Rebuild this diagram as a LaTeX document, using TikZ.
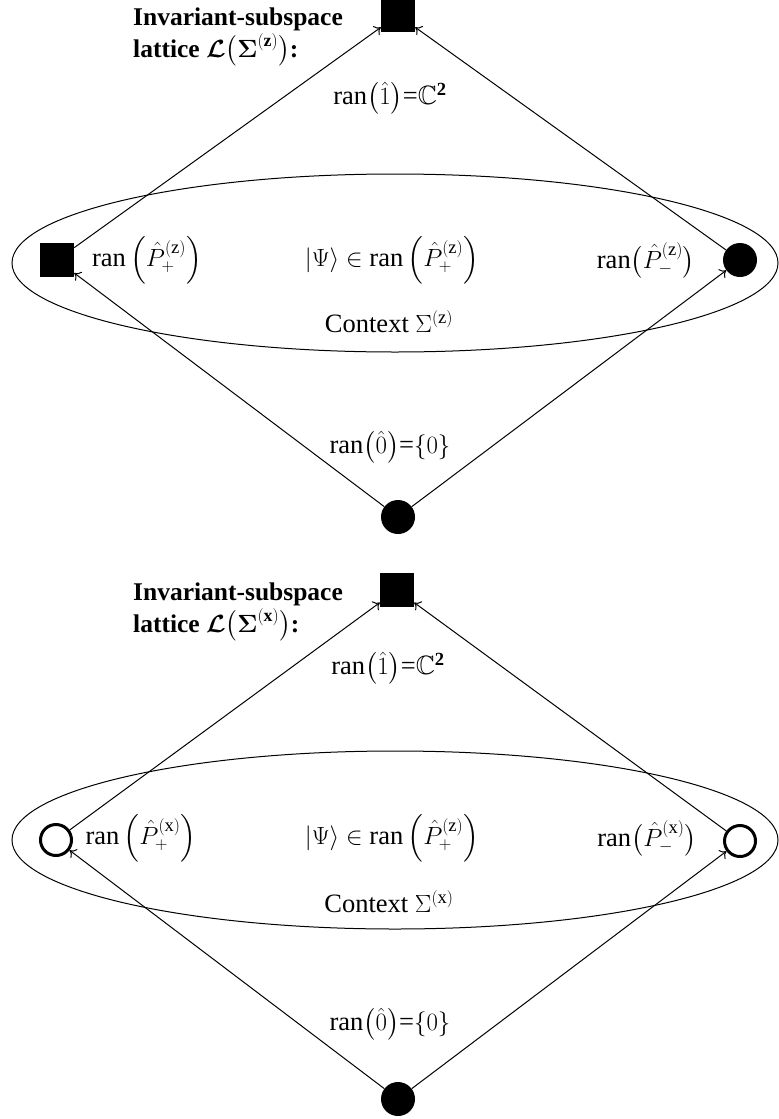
\documentclass[tikz,border=0pt]{standalone}
\usepackage{amsmath,amssymb,bm}
\usepackage{fontspec}
\setmainfont{Liberation Serif}
\usetikzlibrary{arrows.meta,shapes.geometric}
\tikzset{
  sqnode/.style={rectangle, fill=black, minimum size=34pt, inner sep=0pt},
  dotnode/.style={circle, fill=black, minimum size=34pt, inner sep=0pt},
  ringnode/.style={circle, draw=black, line width=3pt, minimum size=31pt, inner sep=0pt},
  ctxnode/.style={ellipse, draw=black, line width=1pt, minimum width=766pt, minimum height=178pt, inner sep=0pt},
  edge/.style={-{To[length=6pt,width=11pt]}, line width=1pt},
  lbl/.style={inner sep=0pt, font=\fontsize{26.5}{30}\selectfont},
  ttl/.style={inner sep=0pt, anchor=base west, font=\fontsize{25.5}{30}\selectfont\bfseries}
}
\begin{document}
\begin{tikzpicture}[x=1pt,y=-1pt]
\useasboundingbox (0,0) rectangle (779,1119);
% ---------- upper lattice ----------
\node[ctxnode] (E1) at (395,263) {};
\node[ttl] (t1a) at (133,25) {Invariant-subspace};
\node[ttl] (t1b) at (133,57) {lattice $\bm{\mathcal{L}}\bigl(\bm{\Sigma}^{(\mathbf{z})}\bigr)$:};
\node[sqnode] (T1) at (398,15) {};
\node[sqnode] (L1) at (57,260) {};
\node[dotnode] (R1) at (740,260) {};
\node[dotnode] (B1) at (398,517) {};
\node[lbl] (one1) at (390,98) {ran$\bigl(\hat{1}\bigr)$=$\mathbb{C}^{\mathbf{2}}$};
\node[lbl] (pl1) at (147,260) {ran$\,\left(\hat{P}_+^{(\mathrm{z})}\right)$};
\node[lbl] (psi1) at (392,260) {$|\Psi\rangle\in$ ran$\,\left(\hat{P}_+^{(\mathrm{z})}\right)$};
\node[lbl] (pm1) at (646,260) {ran$\bigl(\hat{P}_-^{(\mathrm{z})}\bigr)$};
\node[lbl] (c1) at (389,322) {Context $\Sigma^{(\mathrm{z})}$};
\node[lbl] (zero1) at (390,447) {ran$\bigl(\hat{0}\bigr)$=$\{0\}$};
\draw[edge] (L1) -- (T1);
\draw[edge] (R1) -- (T1);
\draw[edge] (B1) -- (L1);
\draw[edge] (B1) -- (R1);
% ---------- lower lattice ----------
\node[ctxnode] (E2) at (395,840) {};
\node[ttl] (t2a) at (133,600) {Invariant-subspace};
\node[ttl] (t2b) at (133,632) {lattice $\bm{\mathcal{L}}\bigl(\bm{\Sigma}^{(\mathbf{x})}\bigr)$:};
\node[sqnode] (T2) at (397,590) {};
\node[ringnode] (L2) at (56,840) {};
\node[ringnode] (R2) at (740,841) {};
\node[dotnode] (B2) at (398,1099) {};
\node[lbl] (one2) at (388,668) {ran$\bigl(\hat{1}\bigr)$=$\mathbb{C}^{\mathbf{2}}$};
\node[lbl] (pl2) at (141,838) {ran$\,\left(\hat{P}_+^{(\mathrm{x})}\right)$};
\node[lbl] (psi2) at (392,838) {$|\Psi\rangle\in$ ran$\,\left(\hat{P}_+^{(\mathrm{z})}\right)$};
\node[lbl] (pm2) at (647,838) {ran$\bigl(\hat{P}_-^{(\mathrm{x})}\bigr)$};
\node[lbl] (c2) at (389,902) {Context $\Sigma^{(\mathrm{x})}$};
\node[lbl] (zero2) at (390,1024) {ran$\bigl(\hat{0}\bigr)$=$\{0\}$};
\draw[edge] (L2) -- (T2);
\draw[edge] (R2) -- (T2);
\draw[edge] (B2) -- (L2);
\draw[edge] (B2) -- (R2);
\end{tikzpicture}
\end{document}
